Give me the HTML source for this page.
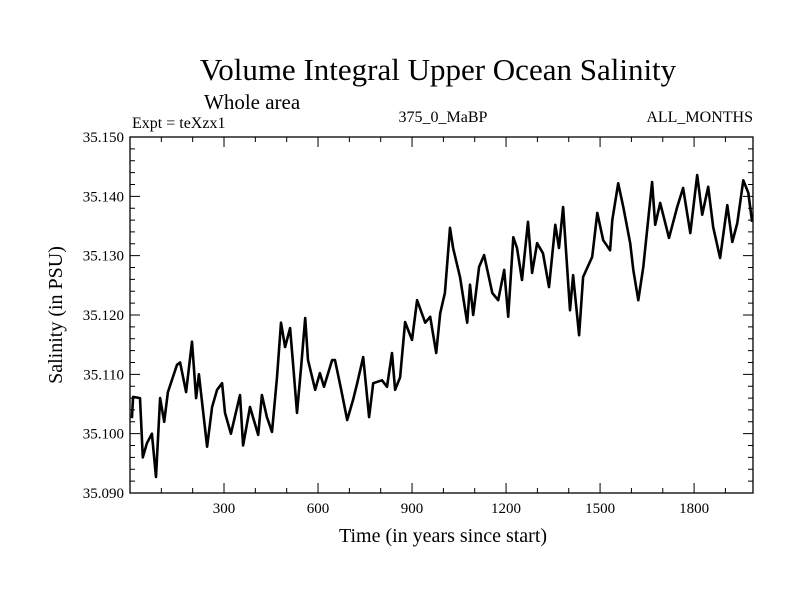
<!DOCTYPE html>
<html><head><meta charset="utf-8"><style>
body{margin:0;background:#fff}
svg text{font-family:"Liberation Serif",serif;fill:#000}
</style></head><body>
<svg id="c" width="800" height="600" xmlns="http://www.w3.org/2000/svg">
<text x="438" y="80" font-size="31" text-anchor="middle">Volume Integral Upper Ocean Salinity</text>
<text x="204" y="109" font-size="21">Whole area</text>
<text x="132" y="128" font-size="16">Expt = teXzx1</text>
<text x="443" y="122" font-size="16" text-anchor="middle">375_0_MaBP</text>
<text x="753" y="122" font-size="16" text-anchor="end">ALL_MONTHS</text>
<text x="443" y="542" font-size="20" text-anchor="middle">Time (in years since start)</text>
<text transform="translate(62,315) rotate(-90)" font-size="20" text-anchor="middle">Salinity (in PSU)</text>
<g id="axes"></g>
<path id="line" fill="none" stroke="#000" stroke-width="2.6" stroke-linejoin="round"/>
</svg>
<script>
const years=[6,10,32,41,54,70,83,96,109,121,150,160,179,198,211,220,246,262,278,294,303,322,351,361,383,409,421,437,453,469,482,495,511,520,533,546,559,568,591,606,619,645,654,674,693,712,725,744,763,776,804,820,836,846,862,878,900,916,942,958,977,990,1005,1021,1031,1053,1076,1085,1095,1114,1130,1156,1175,1194,1207,1223,1235,1251,1270,1283,1299,1318,1337,1357,1369,1382,1404,1414,1433,1446,1475,1491,1510,1532,1539,1558,1574,1596,1606,1622,1638,1666,1676,1692,1720,1746,1765,1788,1810,1826,1845,1861,1883,1906,1922,1938,1957,1973,1985];
const salinity=[35.1026,35.1062,35.106,35.096,35.0984,35.100,35.0927,35.106,35.102,35.107,35.1116,35.112,35.107,35.1155,35.106,35.110,35.0978,35.1045,35.1074,35.1085,35.1035,35.100,35.1065,35.098,35.1045,35.0998,35.1065,35.1028,35.1003,35.1095,35.1187,35.1146,35.1178,35.1119,35.1035,35.1112,35.1195,35.1124,35.1074,35.1102,35.1079,35.1124,35.1124,35.1074,35.1023,35.1057,35.1085,35.1129,35.1028,35.1085,35.109,35.1079,35.1136,35.1074,35.1095,35.1188,35.1158,35.1225,35.1187,35.1197,35.1136,35.1203,35.1237,35.1347,35.1313,35.1264,35.1187,35.1251,35.12,35.1281,35.1301,35.1237,35.1225,35.1276,35.1197,35.1331,35.1313,35.1259,35.1357,35.1271,35.1321,35.1304,35.1247,35.1352,35.1313,35.1382,35.1208,35.1267,35.1166,35.1264,35.1298,35.1372,35.1326,35.1309,35.136,35.1422,35.1382,35.1321,35.1276,35.1225,35.1281,35.1424,35.1352,35.1389,35.133,35.1382,35.1414,35.1338,35.1436,35.1369,35.1416,35.1348,35.1296,35.1385,35.1323,35.1355,35.1427,35.1406,35.1357];
const xTicks=[300,600,900,1200,1500,1800];
const yTicks=[35.090,35.100,35.110,35.120,35.130,35.140,35.150];
const X0=130,X1=753,Y0=493,Y1=137,XMIN=0,XMAX=1988,YMIN=35.090,YMAX=35.150;
const sx=v=>X0+(v-XMIN)/(XMAX-XMIN)*(X1-X0);
const sy=v=>Y0-(v-YMIN)/(YMAX-YMIN)*(Y0-Y1);
const NS='http://www.w3.org/2000/svg';
const ax=document.getElementById('axes');
function mk(t,a){const e=document.createElementNS(NS,t);for(const k in a)e.setAttribute(k,a[k]);ax.appendChild(e);return e;}
const fr=mk('rect',{x:X0,y:Y1,width:X1-X0,height:Y0-Y1,fill:'none',stroke:'#000','stroke-width':1.3});


for(let v=100;v<XMAX;v+=100){const x=sx(v);const L=(v%300===0)?10:5;
 const t=mk('path',{d:`M${x},${Y0}v${-L}M${x},${Y1}v${L}`,stroke:'#000','stroke-width':1});
 
 }
xTicks.forEach(v=>{const t=mk('text',{x:sx(v),y:Y0+20,'font-size':15,'text-anchor':'middle'});t.textContent=v;
 
 });
for(let i=0;i<=30;i++){const v=YMIN+i*0.002;const y=sy(v);const L=(i%5===0)?10:5;
 const t=mk('path',{d:`M${X0},${y}h${L}M${X1},${y}h${-L}`,stroke:'#000','stroke-width':1});
 
 }
yTicks.forEach(v=>{const t=mk('text',{x:X0-6,y:sy(v)+5,'font-size':15,'text-anchor':'end'});t.textContent=v.toFixed(3);
 
 });
document.getElementById('line').setAttribute('d',years.map((yr,i)=>(i?'L':'M')+sx(yr).toFixed(1)+','+sy(salinity[i]).toFixed(1)).join(''));
</script>
</body></html>
